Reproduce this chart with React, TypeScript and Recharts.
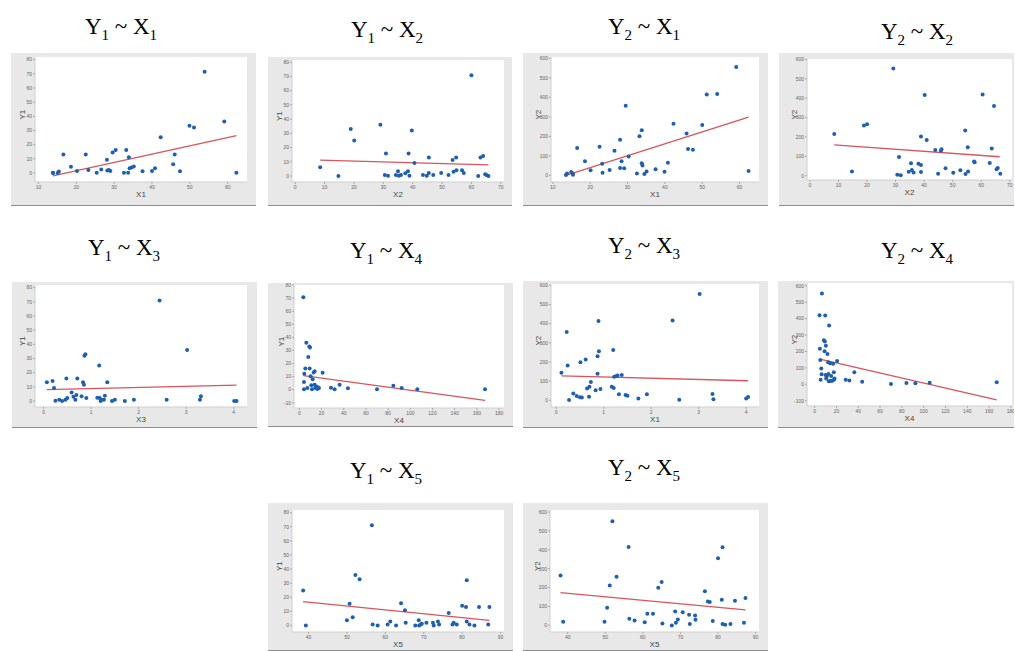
import React from "react";
import { ScatterChart, Scatter, XAxis, YAxis, CartesianGrid, ReferenceLine } from "recharts";

type Pt = [number, number];

const y1x1: Pt[] = [
  [13.8, 0.2], [13.9, 0], [15.1, 0], [15.4, 1], [16.6, 13], [18.6, 4.3], [20.2, 1.4], [22.5, 13],
  [23.2, 2], [25.4, 0.2], [26.6, 2.4], [28.1, 9.3], [28.2, 1.7], [28.6, 2], [29.0, 1.4], [29.6, 14.5],
  [30.4, 16.2], [32.6, 0.2], [33.2, 16.2], [33.7, 0.2], [33.9, 11], [34.1, 3.3], [34.6, 3.8], [35.2, 4.5],
  [37.5, 1.2], [40.0, 1.4], [40.8, 3.3], [42.3, 25.2], [45.6, 6.2], [46.0, 13.1], [47.4, 1.2], [49.9, 33.3],
  [51.1, 32.1], [53.9, 71.4], [59.1, 36.4], [62.3, 0.2],
];
const y1x2: Pt[] = [
  [8.5, 6.1], [14.7, 0], [18.9, 33], [20.1, 25], [29.0, 36], [30.5, 0.8], [30.9, 15.9], [31.6, 0.2],
  [34.3, 0.7], [35, 3.3], [35.3, 0.2], [36, 0.7], [37.5, 1.9], [38.4, 3.3], [38.6, 15.9], [38.9, 0.2],
  [39.7, 32], [40.6, 9.1], [43.5, 0.7], [44.8, 0.2], [45.5, 2.1], [45.5, 13.1], [47, 0.7], [49.7, 2.1],
  [52.2, 0.7], [53.6, 11.2], [53.9, 3], [54.8, 13.1], [54.9, 4], [56.8, 4], [57.4, 2.1], [60, 70.8],
  [62.3, 0], [63.1, 13.1], [64, 14], [64.7, 1.2], [65.1, 0.7], [65.8, 0],
];
const y2x1: Pt[] = [
  [13.5, 2], [13.8, 9], [14.9, 17], [15.3, 10], [15.4, 3], [16.5, 140], [18.6, 73], [20.1, 26],
  [22.5, 147], [23.2, 60], [23.3, 14], [25.2, 27], [26.5, 126], [28, 183], [28, 38], [28.4, 72],
  [29.1, 36], [29.5, 357], [30.3, 97], [32.5, 10], [33.2, 200], [33.8, 232], [33.8, 62], [34, 51],
  [34.5, 7], [35.1, 20], [37.5, 32], [39.9, 19], [40.8, 65], [42.3, 265], [45.8, 215], [46.2, 135],
  [47.5, 132], [50, 258], [51.2, 415], [54, 417], [59.1, 556], [62.4, 22],
];
const y2x2: Pt[] = [
  [8.5, 215], [14.7, 22], [18.9, 259], [20, 265], [29.2, 553], [30.6, 5], [31.2, 97], [31.8, 3],
  [34.6, 21], [35.4, 65], [35.7, 29], [36.3, 17], [38, 62], [38.9, 55], [38.9, 19], [38.9, 202],
  [40.2, 416], [40.9, 184], [43.9, 133], [44.9, 10], [45.9, 129], [46.1, 136], [47.5, 38], [50.2, 16],
  [52.7, 28], [54.5, 9], [54.4, 233], [55.3, 147], [55.4, 22], [57.5, 74], [57.7, 69], [60.5, 419],
  [63, 66], [63.7, 140], [64.5, 360], [65.4, 33], [65.8, 40], [66.7, 10],
];
const y1x3: Pt[] = [
  [0.07, 13.2], [0.19, 14.1], [0.22, 9.2], [0.25, 0.2], [0.33, 0.9], [0.39, 0], [0.46, 0.9], [0.48, 16],
  [0.5, 2.1], [0.59, 6.1], [0.63, 3.1], [0.67, 0.9], [0.69, 4.2], [0.71, 16], [0.8, 3.3], [0.83, 13.2],
  [0.85, 11.5], [0.86, 32], [0.88, 33], [0.9, 2.1], [1.13, 2.4], [1.17, 25], [1.18, 2.1], [1.2, 0],
  [1.22, 0.9], [1.27, 0.9], [1.29, 3.8], [1.34, 13.2], [1.44, 0], [1.5, 0.9], [1.71, 0], [1.9, 0.9],
  [2.44, 71], [2.59, 0.9], [3.02, 36], [3.29, 0.9], [3.31, 3.3], [4.01, 0], [4.06, 0],
];
const y1x4: Pt[] = [
  [3.6, 70.6], [4.2, 5.8], [4.5, 12.2], [4.2, 0.3], [5.4, 16.2], [6.3, 35.8], [7.2, 1.3], [8.1, 24.9],
  [9, 33], [9.6, 32.2], [9.3, 16.2], [10.2, 10.2], [10.8, 3.3], [11.4, 0.3], [12, 7.9], [12.9, 13.2],
  [13.8, 14], [13.8, 3.8], [14.4, 1.3], [15.3, 2.5], [16.2, 0.5], [16.8, 1.8], [17.7, 1.3], [21, 13],
  [28.5, 1.5], [31.8, 0.3], [36.3, 3.8], [43.8, 1], [70, 0.3], [84.7, 3], [92.2, 1.3], [106.3, 0.3],
  [167.3, 0.3],
];
const y2x3: Pt[] = [
  [0.11, 144], [0.22, 357], [0.24, 182], [0.27, 2], [0.36, 35], [0.43, 23], [0.5, 16], [0.51, 199],
  [0.54, 14], [0.62, 213], [0.65, 62], [0.69, 19], [0.7, 71], [0.73, 95], [0.83, 52], [0.87, 230],
  [0.87, 139], [0.89, 414], [0.9, 256], [0.93, 59], [1.17, 71], [1.2, 263], [1.21, 64], [1.22, 123],
  [1.27, 127], [1.29, 130], [1.32, 31], [1.38, 132], [1.46, 28], [1.5, 24], [1.73, 9], [1.91, 31],
  [2.45, 416], [2.59, 3], [3.02, 555], [3.29, 33], [3.31, 5], [4.0, 9], [4.04, 17],
];
const y2x4: Pt[] = [
  [4.5, 421], [4.8, 217], [5.2, 148], [5.5, 28], [6.1, 97], [6.4, 61], [6.7, 553], [8.5, 269],
  [9.1, 202], [9.4, 261], [9.7, 419], [10, 57], [10.3, 235], [10.6, 36], [11.2, 51], [11.8, 184],
  [12.4, 134], [12.7, 63], [13, 18], [13.3, 358], [14.2, 128], [14.5, 20], [15.2, 51], [16.4, 22],
  [17, 126], [17.6, 73], [17.9, 30], [18.2, 36], [20.6, 142], [28.5, 28], [31.8, 24], [36.4, 73],
  [43.6, 16], [70, 2], [84.2, 8], [92.4, 6], [105.5, 10], [167, 12],
];
const y1x5: Pt[] = [
  [38.6, 24.8], [39.3, 0], [50, 3.7], [50.7, 15.4], [51.5, 5.8], [52.2, 35.8], [53.3, 32.7], [56.5, 71.1],
  [56.7, 0.7], [58, 0], [60.6, 0.7], [61.3, 2.8], [62.8, 0], [64.1, 15.7], [65.1, 10.8], [65.3, 1.9],
  [67.8, 0], [68.7, 3.7], [68.8, 0], [69.2, 0.7], [69.5, 1.2], [70.7, 1.9], [72.4, 1.9], [72.6, 0],
  [73.7, 2.8], [74, 0.7], [76.5, 8.7], [77.5, 0.7], [77.8, 1.9], [78.6, 0.7], [80, 14], [81, 13.1],
  [81.2, 2.8], [81.2, 32], [81.9, 0.7], [83.2, 0], [84.4, 13.1], [86.8, 0.7], [87.1, 13.1],
];
const y2x5: Pt[] = [
  [38.1, 264], [38.8, 19], [49.8, 19], [50.5, 94], [51.2, 211], [51.9, 551], [53, 257], [56.2, 415],
  [56.4, 35], [57.8, 26], [60.5, 16], [61.2, 61], [62.7, 61], [64.1, 199], [65, 230], [65.2, 10],
  [67.7, 0], [68.6, 73], [68.8, 14], [69.3, 31], [70.6, 70], [72.3, 56], [72.5, 7], [73.9, 52],
  [74, 30], [76.5, 181], [77.3, 127], [77.8, 124], [78.6, 23], [80, 356], [81, 136], [81.2, 414],
  [81.2, 7], [81.9, 3], [83.3, 7], [84.5, 131], [86.9, 14], [87.3, 145],
];

// fitted line ends
const y1x1Fit: Pt[] = [[13.8, -2.1], [62.3, 26.4]];
const y1x2Fit: Pt[] = [[8.5, 11.2], [65.8, 7.9]];
const y2x1Fit: Pt[] = [[13.5, 0], [62.4, 299]];
const y2x2Fit: Pt[] = [[8.5, 159], [66.5, 98]];
const y1x3Fit: Pt[] = [[0.07, 8], [4.06, 11.3]];
const y1x4Fit: Pt[] = [[3.6, 10.7], [167.3, -8.1]];
const y2x3Fit: Pt[] = [[0.11, 127], [4.04, 102]];
const y2x4Fit: Pt[] = [[4.8, 154], [167, -95]];
const y1x5Fit: Pt[] = [[38.6, 16.8], [87.1, 3.5]];
const y2x5Fit: Pt[] = [[38.1, 173], [87.3, 82]];

const ticksX1 = [10, 20, 30, 40, 50, 60];
const ticksX2 = [0, 10, 20, 30, 40, 50, 60, 70];
const ticksX3 = [0, 1, 2, 3, 4];
const ticksX4 = [0, 20, 40, 60, 80, 100, 120, 140, 160, 180];
const ticksX5 = [40, 50, 60, 70, 80, 90];
const ticksY1 = [0, 10, 20, 30, 40, 50, 60, 70, 80];
const ticksY1Neg = [-10, 0, 10, 20, 30, 40, 50, 60, 70, 80];
const ticksY2 = [0, 100, 200, 300, 400, 500, 600];
const ticksY2Neg = [-100, 0, 100, 200, 300, 400, 500, 600];

type PanelCfg = {
  title: [string, string];
  tx: number; ty: number;
  box: [number, number, number, number]; // left, top, width, height
  plot: [number, number, number, number]; // plot left, top, right, bottom (page px)
  xd: [number, number]; yd: [number, number];
  xt: number[]; yt: number[];
  xl: string; yl: string;
  pts: Pt[]; fit: Pt[];
};

const panels: PanelCfg[] = [
  { title: ["1", "1"], tx: 121, ty: 26, box: [11, 53, 245, 152], plot: [35, 57, 247, 182], xd: [9.1, 65.1], yd: [-6.4, 81.9], xt: ticksX1, yt: ticksY1, xl: "X1", yl: "Y1", pts: y1x1, fit: y1x1Fit },
  { title: ["1", "2"], tx: 387, ty: 29, box: [268, 57, 244, 148], plot: [292, 60, 504, 182], xd: [-1.1, 71.1], yd: [-4.2, 81.6], xt: ticksX2, yt: ticksY1, xl: "X2", yl: "Y1", pts: y1x2, fit: y1x2Fit },
  { title: ["2", "1"], tx: 644, ty: 26, box: [523, 53, 245, 152], plot: [551, 57, 759, 182], xd: [9.5, 65.2], yd: [-34, 607], xt: ticksX1, yt: ticksY2, xl: "X1", yl: "Y2", pts: y2x1, fit: y2x1Fit },
  { title: ["2", "2"], tx: 917, ty: 31, box: [779, 53, 235, 152], plot: [807, 59, 1012, 180], xd: [-1.05, 70.8], yd: [-22, 602], xt: ticksX2, yt: ticksY2, xl: "X2", yl: "Y2", pts: y2x2, fit: y2x2Fit },
  { title: ["1", "3"], tx: 124, ty: 247, box: [12, 282, 245, 145], plot: [35, 285, 247, 407], xd: [-0.18, 4.28], yd: [-4.2, 81.9], xt: ticksX3, yt: ticksY1, xl: "X3", yl: "Y1", pts: y1x3, fit: y1x3Fit },
  { title: ["1", "4"], tx: 386, ty: 250, box: [268, 283, 245, 143], plot: [294, 285, 504, 408], xd: [-4.8, 184.4], yd: [-14, 80], xt: ticksX4, yt: ticksY1Neg, xl: "X4", yl: "Y1", pts: y1x4, fit: y1x4Fit },
  { title: ["2", "3"], tx: 644, ty: 245, box: [523, 281, 245, 146], plot: [551, 284, 759, 407], xd: [-0.11, 4.27], yd: [-35, 607], xt: ticksX3, yt: ticksY2, xl: "X1", yl: "Y2", pts: y2x3, fit: y2x3Fit },
  { title: ["2", "4"], tx: 917, ty: 250, box: [778, 281, 236, 146], plot: [807, 283, 1012, 406], xd: [-7, 181], yd: [-132, 617], xt: ticksX4, yt: ticksY2Neg, xl: "X4", yl: "Y2", pts: y2x4, fit: y2x4Fit },
  { title: ["1", "5"], tx: 386, ty: 470, box: [268, 503, 245, 147], plot: [292, 510, 504, 632], xd: [35.7, 90.9], yd: [-4.7, 81.9], xt: ticksX5, yt: ticksY1, xl: "X5", yl: "Y1", pts: y1x5, fit: y1x5Fit },
  { title: ["2", "5"], tx: 644, ty: 467, box: [523, 503, 245, 147], plot: [550, 510, 759, 632], xd: [35.3, 90.9], yd: [-35, 611], xt: ticksX5, yt: ticksY2, xl: "X5", yl: "Y2", pts: y2x5, fit: y2x5Fit },
];

const Dot = (props: any) => <circle cx={props.cx} cy={props.cy} r={2} fill="#1f5fae" />;

const sans = "Liberation Sans, Arial, sans-serif";
const tickStyle = { fontSize: 5, fill: "#666", fontFamily: sans };

function Title({ p }: { p: PanelCfg }) {
  return (
    <div
      style={{
        position: "absolute", left: p.tx - 70, top: p.ty - 13, width: 140, textAlign: "center",
        fontFamily: '"Liberation Serif", "Times New Roman", serif', fontSize: 23, lineHeight: "28px", color: "#000",
        whiteSpace: "nowrap",
      }}
    >
      Y<sub style={{ fontSize: 15 }}>{p.title[0]}</sub> ~ X<sub style={{ fontSize: 15 }}>{p.title[1]}</sub>
    </div>
  );
}

function Panel({ p }: { p: PanelCfg }) {
  const [bl, bt, bw, bh] = p.box;
  const [pl, pt, pr, pb] = p.plot;
  const yw = pl - bl;
  const xh = bt + bh - pb;
  const data = p.pts.map(([x, y]) => ({ x, y }));
  return (
    <div style={{ position: "absolute", left: bl, top: bt, width: bw, height: bh, background: "#e8e8e8", borderBottom: "1px solid #8c8c8c" }}>
      <ScatterChart width={bw} height={bh} margin={{ top: pt - bt, right: bl + bw - pr, bottom: 0, left: 0 }}>
        <CartesianGrid horizontal={false} vertical={false} fill="#ffffff" stroke="none" />
        <XAxis
          type="number" dataKey="x" domain={p.xd} ticks={p.xt} allowDataOverflow interval={0}
          height={xh} tick={tickStyle} tickSize={2} tickMargin={1}
          tickLine={{ stroke: "#aaa" }} axisLine={{ stroke: "#cfcfcf" }}
          label={{ value: p.xl, position: "insideBottom", offset: Math.max(xh - 15, 2), fontSize: 8, fill: "#444", fontFamily: sans }}
        />
        <YAxis
          type="number" dataKey="y" domain={p.yd} ticks={p.yt} allowDataOverflow interval={0}
          width={yw} tick={tickStyle} tickSize={2} tickMargin={1}
          tickLine={{ stroke: "#aaa" }} axisLine={{ stroke: "#cfcfcf" }}
          label={{ value: p.yl, angle: -90, position: "insideLeft", offset: yw - 13, fontSize: 8, fill: "#444", fontFamily: sans }}
        />
        <Scatter data={data} isAnimationActive={false} shape={Dot} />
        <ReferenceLine
          segment={[{ x: p.fit[0][0], y: p.fit[0][1] }, { x: p.fit[1][0], y: p.fit[1][1] }]}
          stroke="#d9545c" strokeWidth={1.3} ifOverflow="visible"
        />
      </ScatterChart>
    </div>
  );
}

export default function App() {
  return (
    <div style={{ position: "absolute", left: 0, top: 0, width: 1015, height: 651, background: "#fff", overflow: "hidden" }}>
      {panels.map((p, i) => (
        <React.Fragment key={i}>
          <Title p={p} />
          <Panel p={p} />
        </React.Fragment>
      ))}
    </div>
  );
}
